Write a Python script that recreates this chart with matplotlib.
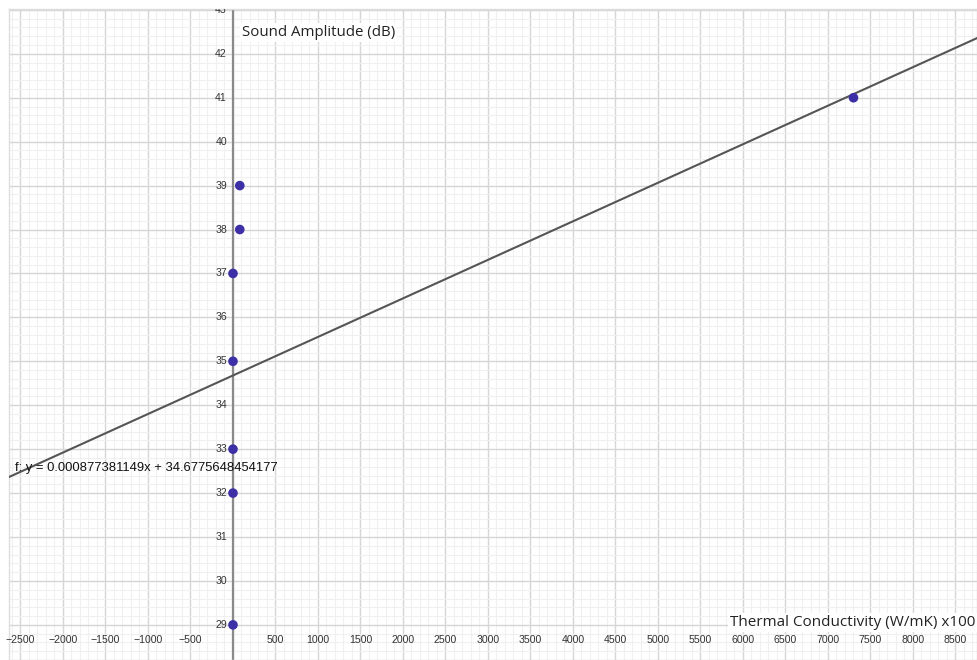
import matplotlib
matplotlib.use("Agg")
import matplotlib.pyplot as plt
from matplotlib.ticker import MultipleLocator
import matplotlib.transforms as mtransforms
import numpy as np

# Data
conductivity = [0, 0, 0, 0, 0, 80, 80, 7300]
amplitude = [29, 32, 33, 35, 37, 38, 39, 41]
slope = 0.000877381149
intercept = 34.6775648454177
x_tick_values = [-2500, -2000, -1500, -1000, -500, 500, 1000, 1500, 2000, 2500, 3000,
                 3500, 4000, 4500, 5000, 5500, 6000, 6500, 7000, 7500, 8000, 8500]
y_tick_values = list(range(29, 44))
equation_label = "f: y = 0.000877381149x + 34.6775648454177"
x_label = "Thermal Conductivity (W/mK) x100"
y_label = "Sound Amplitude (dB)"

fig = plt.figure(figsize=(9.77, 6.6), dpi=100)
ax = fig.add_axes([9/977, 0, 968/977, 651/660])
xmin, xmax = -2635, 8753
ymin, ymax = 28.2, 43.02
ax.set_xlim(xmin, xmax)
ax.set_ylim(ymin, ymax)

ax.xaxis.set_major_locator(MultipleLocator(500))
ax.xaxis.set_minor_locator(MultipleLocator(100))
ax.yaxis.set_major_locator(MultipleLocator(1))
ax.yaxis.set_minor_locator(MultipleLocator(0.2))
ax.grid(which="major", color="#d6d6d6", linewidth=1.0)
ax.grid(which="minor", color="#f0f0f0", linewidth=0.8)
ax.tick_params(which="both", length=0, labelbottom=False, labelleft=False)
for s in ax.spines.values():
    s.set_color("#dddddd")
    s.set_linewidth(1.0)
ax.set_axisbelow(True)

# y axis line at x=0
ax.axvline(0, color="#8a8a8a", linewidth=1.6, zorder=2)

# regression line
xs = np.array([xmin, xmax])
ax.plot(xs, slope * xs + intercept, color="#555555", linewidth=1.5, zorder=3)

# points
ax.scatter(conductivity, amplitude, s=48, color="#3d2fa6", zorder=4, edgecolors="none")

tick_font = dict(fontsize=7.6, color="#333333", family="Liberation Sans")
# x tick labels along bottom
xlab_y = 28.66
for v in x_tick_values:
    lab = f"{v}".replace("-", "\u2212")
    ax.text(v, xlab_y, lab, ha="center", va="center", **tick_font)
# y tick labels left of y-axis
off = mtransforms.offset_copy(ax.transData, fig=fig, x=-6, y=0, units="dots")
for v in y_tick_values:
    ax.text(0, v, str(v), ha="right", va="center", transform=off, clip_on=True, **tick_font)

# labels
ax.text(106, 42.48, y_label, ha="left", va="center", fontsize=10.8, color="#222222",
        family="Open Sans",
        bbox=dict(facecolor="white", edgecolor="none", pad=1.5), zorder=5)
ax.text(5847, 29.05, x_label, ha="left", va="center", fontsize=11, color="#222222",
        family="Open Sans",
        bbox=dict(facecolor="white", edgecolor="none", pad=1.5), zorder=5)
ax.text(-2565, 32.57, equation_label, ha="left", va="center", fontsize=9.4, color="#111111",
        family="Liberation Sans", zorder=5)

fig.savefig("out.png", dpi=100, facecolor="white")
